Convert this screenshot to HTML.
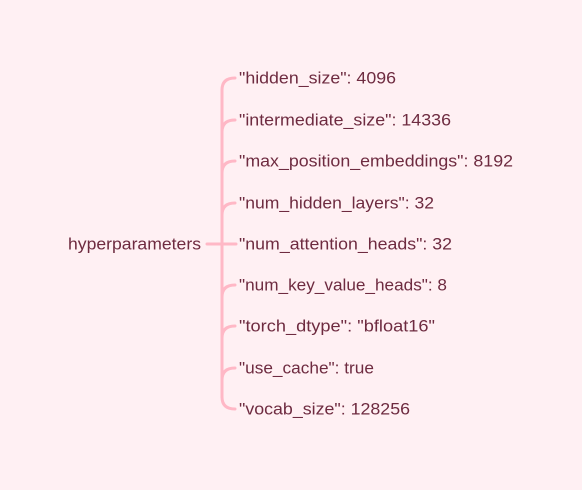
<!DOCTYPE html>
<html><head><style>
body{margin:0;background:#fff0f3;width:582px;height:490px;overflow:hidden;font-family:"Liberation Sans",sans-serif;}
svg{position:absolute;left:0;top:0}
text{font-size:17px;fill:#6e2b40;dominant-baseline:central}
</style></head><body>
<svg width="582" height="490">
<g fill="none" stroke="#ffb8c6" stroke-width="3" stroke-linecap="round">
<path d="M207 244 H236"/>
<path d="M222 90 V397"/>
<path d="M235 78 Q222 78 222 90"/>
<path d="M235 409 Q222 409 222 397"/>
<path d="M235 120 Q222 120 222 132"/>
<path d="M235 161 Q222 161 222 173"/>
<path d="M235 203 Q222 203 222 215"/>
<path d="M235 285 Q222 285 222 297"/>
<path d="M235 326 Q222 326 222 338"/>
<path d="M235 368 Q222 368 222 380"/>
</g>
<text x="68" y="244" textLength="133" lengthAdjust="spacingAndGlyphs">hyperparameters</text>
<text x="239" y="78" textLength="157" lengthAdjust="spacingAndGlyphs">"hidden_size": 4096</text>
<text x="239" y="120" textLength="212" lengthAdjust="spacingAndGlyphs">"intermediate_size": 14336</text>
<text x="239" y="161" textLength="274" lengthAdjust="spacingAndGlyphs">"max_position_embeddings": 8192</text>
<text x="239" y="203" textLength="195" lengthAdjust="spacingAndGlyphs">"num_hidden_layers": 32</text>
<text x="239" y="244" textLength="213" lengthAdjust="spacingAndGlyphs">"num_attention_heads": 32</text>
<text x="239" y="285" textLength="208" lengthAdjust="spacingAndGlyphs">"num_key_value_heads": 8</text>
<text x="239" y="326" textLength="196" lengthAdjust="spacingAndGlyphs">"torch_dtype": "bfloat16"</text>
<text x="239" y="368" textLength="135" lengthAdjust="spacingAndGlyphs">"use_cache": true</text>
<text x="239" y="409" textLength="171" lengthAdjust="spacingAndGlyphs">"vocab_size": 128256</text>
</svg>
</body></html>
